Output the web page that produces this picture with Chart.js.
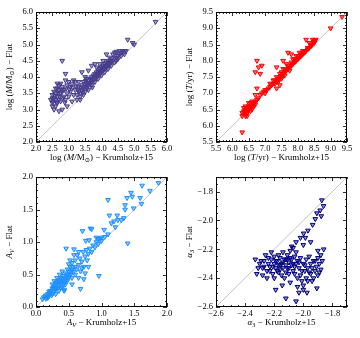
<!DOCTYPE html>
<html>
<head>
<meta charset="utf-8">
<script src="https://cdn.jsdelivr.net/npm/chart.js@4.4.1/dist/chart.umd.min.js"></script>
<style>
  html, body { margin: 0; padding: 0; background: #fff; }
  #wrap { position: relative; width: 360px; height: 338px; }
  .p { position: absolute; width: 180px; height: 169px; }
</style>
</head>
<body>
<div id="wrap">
  <div class="p" style="left:0;top:0"><canvas id="cMass"></canvas></div>
  <div class="p" style="left:180px;top:0"><canvas id="cAge"></canvas></div>
  <div class="p" style="left:0;top:169px"><canvas id="cAv"></canvas></div>
  <div class="p" style="left:180px;top:169px"><canvas id="cAlpha"></canvas></div>
</div>
<script>
// ---- data ----
const massK = [2.45,2.5,2.5,2.55,2.5,2.6,2.6,2.65,2.55,2.65,2.7,2.7,2.75,2.8,2.75,2.8,2.6,2.65,2.7,2.75,2.85,2.9,2.85,2.95,2.95,3.0,2.9,3.05,3.0,3.1,2.7,2.8,2.95,3.05,3.1,3.15,3.2,2.55,2.6,2.5,2.9,2.8,2.65,2.72,2.88,
  3.25,3.3,3.35,3.3,3.35,3.4,3.4,3.45,3.45,3.5,3.5,3.55,3.55,3.6,3.6,3.65,3.65,3.7,3.7,3.75,3.75,3.8,3.8,3.85,3.85,3.9,3.9,3.95,3.95,4.0,4.0,4.05,4.05,4.1,4.1,4.15,4.15,4.2,4.2,4.25,4.3,4.3,4.35,4.4,4.45,4.5,4.55,4.6,4.65,4.7,4.75,4.55,4.45,4.15,3.8,3.7,3.4,3.6,3.5,3.3,3.2,3.15,3.25,3.55,3.6,3.7,3.8,3.9,4.0,4.1,4.2,4.3,4.4,4.5,4.6,3.95,4.05,4.25,4.35,4.8,4.95,5.0,5.65,3.45,3.35,4.45,4.7,3.85,4.4,
  2.52,2.58,2.62,2.68,2.78,2.82,2.92,3.02,3.12,3.22,3.28,3.38,3.42,3.48,3.52,3.58,3.62,3.68,3.72,3.78,3.82,3.88,3.92,3.98,4.02,4.08,4.12,4.18,4.22,4.28];
const massF = [3.3,3.1,3.2,3.35,3.45,3.3,3.5,3.4,3.0,3.2,3.6,3.75,3.8,3.7,3.5,3.55,3.65,3.8,3.3,3.25,3.4,3.3,3.6,3.5,3.75,3.85,3.9,3.7,3.4,3.25,2.95,3.0,3.1,3.55,3.8,3.9,3.85,3.55,3.1,3.35,4.1,4.5,3.65,3.42,3.22,
  3.45,3.55,3.5,3.7,3.4,3.6,3.75,3.65,3.85,3.7,3.55,3.8,3.65,3.75,3.9,3.8,3.95,3.85,4.0,3.9,4.05,3.95,4.1,4.0,4.15,4.05,4.2,4.1,4.25,4.15,4.3,4.2,4.35,4.25,4.4,4.3,4.45,4.35,4.5,4.4,4.45,4.55,4.5,4.6,4.6,4.65,4.7,4.75,4.8,4.8,4.8,4.8,4.78,4.7,4.4,4.35,4.15,4.2,4.0,3.85,3.6,3.45,3.3,3.95,3.6,3.75,3.85,3.95,4.05,4.15,4.25,4.35,4.45,4.55,4.65,4.4,4.5,4.6,4.7,5.15,5.05,5.0,5.7,3.45,3.3,4.5,4.7,4.3,4.75,
  3.25,3.42,3.22,3.52,3.62,3.35,3.65,3.62,3.68,3.72,3.62,3.68,3.52,3.78,3.88,3.72,3.82,3.92,3.68,4.0,4.05,4.1,4.15,4.2,4.25,4.3,4.35,4.4,4.45,4.5];

const ageK = [6.3,6.35,6.3,6.4,6.35,6.4,6.45,6.45,6.5,6.5,6.55,6.55,6.6,6.6,6.65,6.65,6.7,6.4,6.5,6.45,6.55,6.6,6.35,6.7,6.75,6.8,6.85,6.9,6.95,7.0,7.05,7.1,7.15,7.2,7.25,7.3,7.3,7.35,7.4,7.4,7.45,7.5,7.45,7.5,7.55,7.6,7.6,7.65,7.7,7.7,7.75,7.8,7.8,7.85,7.9,7.9,7.95,8.0,8.0,8.05,8.1,8.1,8.15,8.2,8.2,8.25,8.3,8.3,8.35,8.4,8.4,8.45,8.5,8.5,8.55,8.45,8.35,7.65,7.55,7.85,8.05,7.95,7.35,7.25,7.15,7.5,7.6,7.75,8.15,
  6.3,9.35,9.0,6.75,6.8,6.9,6.7,6.85,6.75,6.7,7.35,7.35,7.55,7.7,7.8,8.25,7.0,7.45,
  6.38,6.42,6.48,6.52,6.58,6.62,6.68,7.42,7.52,7.62,7.72,7.82,7.92,8.02,8.12,8.22,8.32,8.42,8.48,8.52];
const ageF = [6.3,6.35,6.4,6.3,6.45,6.5,6.4,6.55,6.5,6.6,6.55,6.7,6.6,6.75,6.7,6.6,6.75,6.6,6.7,6.3,6.45,6.5,6.55,6.65,6.8,6.85,6.95,7.0,7.05,7.1,7.1,7.15,7.2,7.25,7.3,7.3,7.4,7.35,7.45,7.35,7.5,7.55,7.6,7.45,7.6,7.65,7.75,7.7,7.75,7.85,7.8,7.85,7.95,7.9,7.95,8.05,8.0,8.05,8.15,8.1,8.15,8.2,8.2,8.25,8.3,8.3,8.35,8.4,8.4,8.45,8.5,8.5,8.55,8.6,8.65,8.65,8.55,7.9,7.75,8.05,8.25,8.15,7.5,7.4,7.3,7.65,7.55,7.7,8.3,
  5.8,9.35,9.0,8.0,7.8,7.85,7.65,7.6,7.15,6.95,7.8,7.15,8.0,8.25,8.2,8.65,7.0,7.25,
  6.42,6.48,6.45,6.58,6.62,6.68,6.72,7.42,7.5,7.68,7.78,7.88,7.98,8.08,8.18,8.28,8.38,8.48,8.58,8.62];

const avK = [0.1,0.12,0.15,0.15,0.18,0.2,0.2,0.22,0.25,0.25,0.27,0.28,0.3,0.3,0.32,0.33,0.35,0.35,0.37,0.38,0.4,0.4,0.42,0.42,0.44,0.45,0.46,0.48,0.48,0.5,0.5,0.52,0.53,0.55,0.55,0.57,0.6,0.6,0.62,0.63,0.65,0.67,0.68,0.7,0.72,0.73,0.75,0.77,0.78,0.8,0.82,0.85,0.87,0.9,0.92,0.95,0.97,1.0,0.3,0.28,0.32,0.38,0.43,0.36,0.45,0.25,0.5,0.55,0.6,0.52,0.58,0.65,0.7,0.75,0.8,0.55,0.65,0.4,0.35,0.3,0.2,0.17,
  1.62,1.87,1.74,1.45,1.47,1.39,1.1,1.59,1.61,1.36,1.36,1.49,1.12,1.24,1.19,1.25,1.3,1.34,1.21,1.15,1.4,0.83,0.71,1.04,0.92,0.76,0.81,0.46,0.58,0.96,0.73,0.68,0.43,1.05,1.1,1.0,0.85,0.95,
  0.22,0.26,0.29,0.31,0.34,0.36,0.39,0.41,0.44,0.47,0.49,0.51,0.54,0.56,0.14,0.18,0.24];
const avF = [0.12,0.15,0.13,0.18,0.2,0.17,0.24,0.22,0.2,0.28,0.25,0.32,0.27,0.35,0.3,0.38,0.33,0.42,0.37,0.45,0.4,0.3,0.48,0.36,0.44,0.52,0.4,0.5,0.58,0.46,0.55,0.62,0.5,0.58,0.68,0.54,0.62,0.72,0.58,0.8,0.65,0.75,0.55,0.7,0.85,0.62,0.78,0.88,0.72,0.82,0.9,0.85,0.95,0.92,1.0,0.97,1.05,1.02,0.2,0.4,0.45,0.3,0.25,0.5,0.35,0.35,0.66,0.45,0.5,0.72,0.8,0.85,0.6,0.52,0.62,0.35,0.45,0.55,0.25,0.3,0.2,0.15,
  1.87,1.91,1.79,1.76,1.7,1.68,1.65,1.68,1.59,1.57,1.5,1.52,1.41,1.41,1.32,1.34,1.34,1.37,1.23,1.29,0.98,1.21,1.17,1.19,1.07,1.02,1.03,0.9,0.89,0.48,0.43,0.28,0.27,1.08,1.12,1.07,1.2,1.05,
  0.25,0.3,0.26,0.38,0.3,0.4,0.35,0.44,0.38,0.46,0.42,0.5,0.55,0.62,0.16,0.14,0.18];

const alphaK = [-2.33,-2.32,-2.3,-2.28,-2.27,-2.26,-2.25,-2.24,-2.23,-2.22,-2.21,-2.2,-2.2,-2.19,-2.18,-2.18,-2.17,-2.16,-2.15,-2.15,-2.14,-2.13,-2.12,-2.12,-2.11,-2.1,-2.1,-2.09,-2.08,-2.08,-2.07,-2.07,-2.06,-2.05,-2.05,-2.04,-2.04,-2.03,-2.02,-2.02,-2.01,-2.0,-2.0,-1.99,-1.98,-1.98,-1.97,-1.96,-1.95,-1.95,-1.94,-1.93,-1.92,-1.91,-1.9,-1.9,-1.89,-1.88,-1.88,-1.87,-1.86,-1.9,
  -2.19,-2.12,-2.05,-2.03,-1.975,-1.907,-2.145,-2.09,-2.04,-2.0,-2.02,-1.986,-1.998,-1.968,-1.936,-1.918,-1.877,-1.907,-1.884,-1.861,-1.873,-2.05,-2.08,-2.0,-1.95,-2.22,-2.25,-2.28,-2.24,-2.16,-2.13,-2.1,-2.06,-1.97,-1.93,-2.14,-2.11,-2.17,-2.2,-2.27,
  -2.21,-2.19,-2.17,-2.14,-2.11,-2.09,-2.07,-2.06,-2.03,-2.01,-1.99,-1.96,-1.94,-1.92,-1.89,-2.31,-2.29,-2.23,-2.16,-2.12];
const alphaF = [-2.27,-2.37,-2.3,-2.33,-2.28,-2.24,-2.35,-2.3,-2.32,-2.27,-2.37,-2.3,-2.25,-2.33,-2.28,-2.35,-2.31,-2.26,-2.3,-2.38,-2.33,-2.27,-2.31,-2.36,-2.24,-2.29,-2.33,-2.21,-2.27,-2.31,-2.19,-2.35,-2.25,-2.3,-2.22,-2.28,-2.4,-2.33,-2.26,-2.38,-2.42,-2.3,-2.45,-2.35,-2.27,-2.4,-2.33,-2.25,-2.3,-2.37,-2.42,-2.28,-2.35,-2.32,-2.26,-2.38,-2.3,-2.24,-2.34,-2.28,-2.2,-2.21,
  -2.48,-2.54,-2.56,-2.5,-2.5,-2.47,-2.45,-2.43,-2.46,-2.48,-2.12,-2.12,-2.09,-2.07,-2.03,-1.99,-1.97,-1.95,-1.93,-1.9,-1.86,-2.15,-2.18,-2.17,-2.15,-2.22,-2.4,-2.38,-2.26,-2.34,-2.4,-2.37,-2.32,-2.42,-2.4,-2.22,-2.27,-2.24,-2.4,-2.32,
  -2.32,-2.28,-2.36,-2.29,-2.33,-2.26,-2.3,-2.37,-2.29,-2.35,-2.31,-2.36,-2.33,-2.28,-2.36,-2.33,-2.28,-2.35,-2.31,-2.27];

// axis ranges and tick labels
const massRange = [2.0, 6.0];
const massTicks = [2.0, 2.5, 3.0, 3.5, 4.0, 4.5, 5.0, 5.5, 6.0];
const ageRange = [5.5, 9.5];
const ageTicks = [5.5, 6.0, 6.5, 7.0, 7.5, 8.0, 8.5, 9.0, 9.5];
const avRange = [0.0, 2.0];
const avTicks = [0.0, 0.5, 1.0, 1.5, 2.0];
const alphaRange = [-2.6, -1.7];
const alphaTicks = [-2.6, -2.4, -2.2, -2.0, -1.8];

// ---- helpers ----
const FONT = "'Liberation Serif', 'DejaVu Serif', serif";

function fontOf(flags, size) {
  const sub = flags.includes("s");
  const it = flags.includes("i");
  return (it ? "italic " : "") + (sub ? size * 0.7 : size) + "px " + FONT;
}

function drawRich(ctx, segs, cx, cy, rotate, size) {
  ctx.save();
  ctx.translate(cx, cy);
  if (rotate) ctx.rotate(-Math.PI / 2);
  let w = 0;
  segs.forEach(([t, f]) => { ctx.font = fontOf(f, size); w += ctx.measureText(t).width; });
  let xx = -w / 2;
  ctx.fillStyle = "#000";
  ctx.textBaseline = "middle";
  segs.forEach(([t, f]) => {
    ctx.font = fontOf(f, size);
    ctx.fillText(t, xx, f.includes("s") ? 2.5 : 0);
    xx += ctx.measureText(t).width;
  });
  ctx.restore();
}

// frame, inward major/minor ticks on all four sides, rich axis titles
const framePlugin = {
  id: "frame",
  afterDraw(chart, args, o) {
    const { ctx, chartArea: a, scales } = chart;
    ctx.save();
    ctx.strokeStyle = "#000";
    ctx.lineWidth = 0.8;
    ["x", "y"].forEach((id) => {
      const s = scales[id];
      const n = Math.round((s.max - s.min) / o.minor);
      for (let k = 0; k <= n; k++) {
        const v = s.min + k * o.minor;
        const major = o.ticks.some((t) => Math.abs(t - v) < 1e-6);
        const len = major ? 4 : 2;
        const p = Math.round(s.getPixelForValue(v)) + 0.5;
        ctx.beginPath();
        if (id === "x") {
          ctx.moveTo(p, a.bottom); ctx.lineTo(p, a.bottom - len);
          ctx.moveTo(p, a.top); ctx.lineTo(p, a.top + len);
        } else {
          ctx.moveTo(a.left, p); ctx.lineTo(a.left + len, p);
          ctx.moveTo(a.right, p); ctx.lineTo(a.right - len, p);
        }
        ctx.stroke();
      }
    });
    ctx.lineWidth = 1;
    ctx.strokeRect(a.left + 0.5, a.top + 0.5, a.right - a.left - 1, a.bottom - a.top - 1);
    ctx.restore();
    const cx = (a.left + a.right) / 2;
    const cy = (a.top + a.bottom) / 2;
    drawRich(ctx, o.xTitle, cx, a.bottom + 16, false, 9);
    drawRich(ctx, o.yTitle, 10, cy, true, 9);
  },
};

function fmt(v) {
  return v.toFixed(1).replace("-", "\u2212");
}

function panel(canvasId, xs, ys, range, ticks, minor, color, fill, xTitle, yTitle, top) {
  const pts = xs.map((x, i) => ({ x, y: ys[i] }));
  const axis = (id) => ({
    type: "linear",
    min: range[0],
    max: range[1],
    afterBuildTicks: (s) => { s.ticks = ticks.map((v) => ({ value: v })); },
    afterFit: (s) => { if (id === "x") s.height = 169 - top - 130; else s.width = 36; },
    grid: { display: false, drawTicks: false },
    border: { display: false },
    ticks: {
      color: "#000",
      padding: id === "x" ? 2 : 3,
      maxRotation: 0,
      autoSkip: false,
      font: { family: FONT, size: 8.5 },
      callback: (v) => fmt(v),
    },
  });
  return new Chart(document.getElementById(canvasId), {
    data: {
      datasets: [
        {
          type: "line",
          data: [{ x: range[0], y: range[0] }, { x: range[1], y: range[1] }],
          borderColor: "#c4c4c4",
          borderWidth: 1,
          pointRadius: 0,
          order: 2,
        },
        {
          type: "scatter",
          data: pts,
          pointStyle: "triangle",
          rotation: 180,
          radius: 2.7,
          borderWidth: 1,
          borderColor: color,
          backgroundColor: fill,
          order: 1,
        },
      ],
    },
    options: {
      responsive: true,
      maintainAspectRatio: false,
      animation: false,
      events: [],
      layout: { padding: { left: 0, right: 13, top: top, bottom: 0 } },
      plugins: {
        legend: { display: false },
        tooltip: { enabled: false },
        frame: { ticks, minor, xTitle, yTitle },
      },
      scales: { x: axis("x"), y: axis("y") },
    },
    plugins: [framePlugin],
  });
}

const K15 = [" \u2212 Krumholz+15", ""];
const FLAT = [" \u2212 Flat", ""];

panel("cMass", massK, massF, massRange, massTicks, 0.1, "#483d8b", "rgba(72,61,139,0.5)",
  [["log (", ""], ["M", "i"], ["/M", ""], ["\u2299", "s"], [")", ""], K15],
  [["log (", ""], ["M", "i"], ["/M", ""], ["\u2299", "s"], [")", ""], FLAT], 12);

panel("cAge", ageK, ageF, ageRange, ageTicks, 0.1, "#ff0000", "rgba(255,0,0,0.55)",
  [["log (", ""], ["T", "i"], ["/yr)", ""], K15],
  [["log (", ""], ["T", "i"], ["/yr)", ""], FLAT], 12);

panel("cAv", avK, avF, avRange, avTicks, 0.1, "#1e90ff", "rgba(30,144,255,0.5)",
  [["A", "i"], ["V", "is"], K15],
  [["A", "i"], ["V", "is"], FLAT], 8);

panel("cAlpha", alphaK, alphaF, alphaRange, alphaTicks, 0.05, "#000080", "rgba(0,0,128,0.45)",
  [["\u03b1", "i"], ["3", "s"], K15],
  [["\u03b1", "i"], ["3", "s"], FLAT], 8);
</script>
</body>
</html>
